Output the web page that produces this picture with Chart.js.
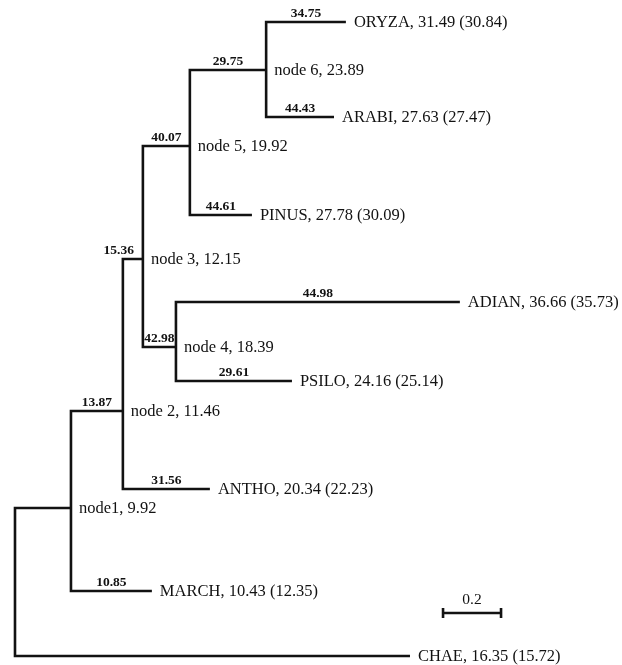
<!DOCTYPE html>
<html>
<head>
<meta charset="utf-8">
<script src="https://cdn.jsdelivr.net/npm/chart.js@4.4.1/dist/chart.umd.min.js"></script>
<style>
  html, body { margin: 0; padding: 0; background: #fff; }
  canvas { display: block; }
</style>
</head>
<body>
<canvas id="treeChart" width="622" height="665"></canvas>
<script>
// tree nodes: id, parent, distance from root, vertical slot
const nodeIds   = ['root', 'node1', 'node2', 'node3', 'node4', 'node5', 'node6', 'ORYZA', 'ARABI', 'PINUS', 'ADIAN', 'PSILO', 'ANTHO', 'MARCH', 'CHAE']
const parentIds = [null, 'root', 'node1', 'node2', 'node3', 'node3', 'node5', 'node6', 'node6', 'node5', 'node4', 'node4', 'node2', 'node1', 'root']
const depth     = [0, 0.193, 0.372, 0.441, 0.555, 0.603, 0.866, 1.141, 1.100, 0.817, 1.534, 0.955, 0.672, 0.472, 1.362]
const slot      = [58.0, 50.8, 41.1, 25.9, 34.7, 14.6, 7.0, 2.2, 11.7, 21.5, 30.2, 38.1, 48.9, 59.1, 65.6]

// text shown next to nodes
const displayNames = [null, 'node1', 'node 2', 'node 3', 'node 4', 'node 5', 'node 6', 'ORYZA', 'ARABI', 'PINUS', 'ADIAN', 'PSILO', 'ANTHO', 'MARCH', 'CHAE']
const nodeScores   = [null, 9.92, 11.46, 12.15, 18.39, 19.92, 23.89, 31.49, 27.63, 27.78, 36.66, 24.16, 20.34, 10.43, 16.35]
const altScores    = [null, null, null, null, null, null, null, 30.84, 27.47, 30.09, 35.73, 25.14, 22.23, 12.35, 15.72]
// bold values over each branch
const branchValues = [null, null, 13.87, 15.36, 42.98, 40.07, 29.75, 34.75, 44.43, 44.61, 44.98, 29.61, 31.56, 10.85, null]

const scaleBarLength = 0.2

const ink = '#121212'
const serif = '"Liberation Serif", "Times New Roman", serif'

function fmt(v) { return v.toFixed(2) }

// one elbow line per branch: along the parent's vertical, then out to the child
var edges = []
for (var i = 0; i < nodeIds.length; i++) {
    if (parentIds[i] === null) continue
    var p = nodeIds.indexOf(parentIds[i])
    edges.push({
        data: [
            { x: depth[p], y: slot[p] },
            { x: depth[p], y: slot[i] },
            { x: depth[i], y: slot[i] }
        ],
        showLine: true,
        borderColor: ink,
        borderWidth: 2.6,
        borderJoinStyle: 'miter',
        borderCapStyle: 'butt',
        pointRadius: 0,
        pointHoverRadius: 0,
        fill: false,
        tension: 0,
        clip: false
    })
}

const treeLabels = {
    id: 'treeLabels',
    afterDatasetsDraw(chart) {
        var ctx = chart.ctx
        var xs = chart.scales.x
        var ys = chart.scales.y
        ctx.save()
        ctx.fillStyle = ink
        for (var i = 0; i < nodeIds.length; i++) {
            var px = xs.getPixelForValue(depth[i])
            var py = ys.getPixelForValue(slot[i])

            // node / leaf caption
            if (displayNames[i]) {
                var isLeaf = altScores[i] !== null
                var text = displayNames[i] + ', ' + fmt(nodeScores[i])
                if (isLeaf) text += ' (' + fmt(altScores[i]) + ')'
                ctx.font = '16.5px ' + serif
                ctx.textAlign = 'left'
                ctx.textBaseline = 'middle'
                ctx.fillText(text, px + 8, py + 1)
            }

            // bold value above the branch
            if (branchValues[i] !== null) {
                var p = nodeIds.indexOf(parentIds[i])
                var startX = xs.getPixelForValue(depth[p])
                var label = fmt(branchValues[i])
                ctx.font = 'bold 13.5px ' + serif
                ctx.textBaseline = 'middle'
                var w = ctx.measureText(label).width
                if (w > px - startX + 4) {
                    ctx.textAlign = 'right'
                    ctx.fillText(label, px - 9, py - 8)
                } else {
                    ctx.textAlign = 'center'
                    ctx.fillText(label, (startX + px) / 2, py - 8)
                }
            }
        }

        // scale bar
        var bx0 = xs.getPixelForValue(1.476)
        var bx1 = xs.getPixelForValue(1.476 + scaleBarLength)
        var by = ys.getPixelForValue(61.3)
        ctx.strokeStyle = ink
        ctx.lineWidth = 2.6
        ctx.beginPath()
        ctx.moveTo(bx0, by)
        ctx.lineTo(bx1, by)
        ctx.moveTo(bx0, by - 5)
        ctx.lineTo(bx0, by + 5)
        ctx.moveTo(bx1, by - 5)
        ctx.lineTo(bx1, by + 5)
        ctx.stroke()
        ctx.font = '15.5px ' + serif
        ctx.textAlign = 'center'
        ctx.textBaseline = 'middle'
        ctx.fillText(String(scaleBarLength), (bx0 + bx1) / 2, by - 13)
        ctx.restore()
    }
}

new Chart(document.getElementById('treeChart'), {
    type: 'scatter',
    data: { datasets: edges },
    options: {
        responsive: false,
        animation: false,
        layout: { padding: 0 },
        plugins: {
            legend: { display: false },
            tooltip: { enabled: false }
        },
        scales: {
            x: { type: 'linear', display: false, min: -0.0517, max: 2.0931 },
            y: { type: 'linear', display: false, min: 0, max: 66.5, reverse: true }
        }
    },
    plugins: [treeLabels]
})
</script>
</body>
</html>
